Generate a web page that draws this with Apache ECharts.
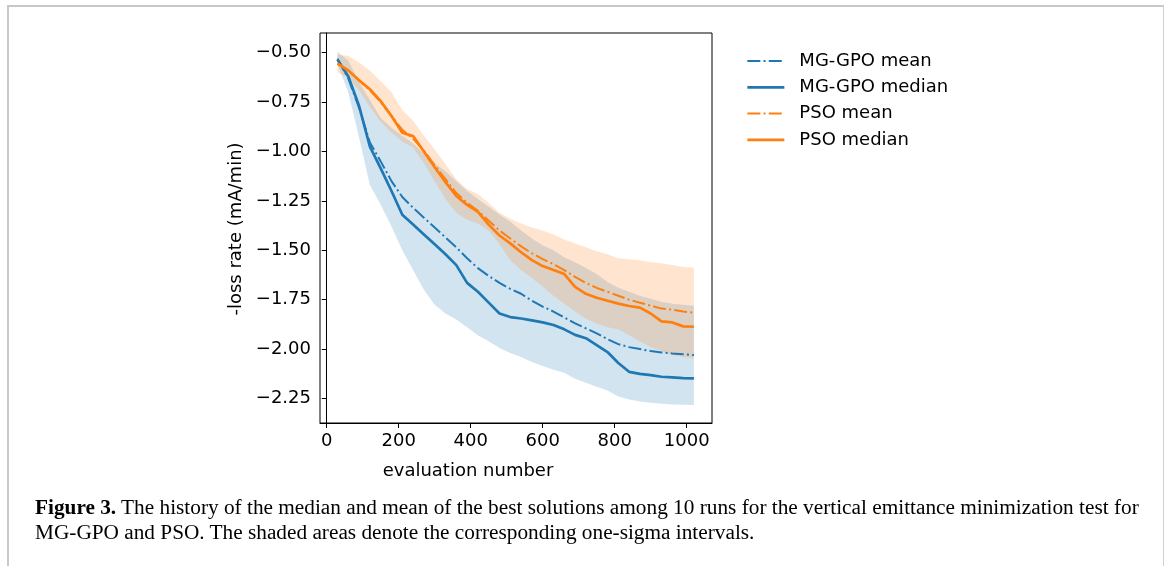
<!DOCTYPE html>
<html>
<head>
<meta charset="utf-8">
<title>Figure 3</title>
<script src="https://cdn.jsdelivr.net/npm/echarts@6.0.0/dist/echarts.min.js"></script>
<style>
  html, body { margin: 0; padding: 0; background: #fff; }
  #frame { position: absolute; left: 7px; top: 5px; width: 1154px; height: 600px;
           border-top: 2px solid #c8c8c8; border-left: 2px solid #c8c8c8; border-right: 1px solid #d0d0d0; }
  #chart { position: absolute; left: 0; top: 0; width: 1170px; height: 566px; }
  #caption { position: absolute; left: 35px; top: 495px; font-family: "Liberation Serif", serif;
             font-size: 20px; line-height: 25px; color: #000; white-space: nowrap;
             transform-origin: 0 0; transform: scaleX(1.064); }
</style>
</head>
<body>
<div id="frame"></div>
<div id="chart"></div>
<div id="caption"><b>Figure 3.</b> The history of the median and mean of the best solutions among 10 runs for the vertical emittance minimization test for<br>MG-GPO and PSO. The shaded areas denote the corresponding one-sigma intervals.</div>
<script>
// evaluation number of each point
var evals = [30, 60, 90, 120, 150, 180, 210, 240, 270, 300, 330, 360, 390, 420, 450, 480, 510,
             540, 570, 600, 630, 660, 690, 720, 750, 780, 810, 840, 870, 900, 930, 960, 990, 1020];

// MG-GPO
var mgMean = [-0.53, -0.63, -0.78, -0.955, -1.05, -1.15, -1.23, -1.285, -1.335, -1.385, -1.435, -1.485, -1.54,
              -1.59, -1.63, -1.665, -1.695, -1.72, -1.755, -1.785, -1.81, -1.84, -1.87, -1.895, -1.92, -1.95,
              -1.975, -1.99, -2.00, -2.01, -2.017, -2.022, -2.026, -2.03];
var mgMedian = [-0.535, -0.62, -0.77, -0.975, -1.085, -1.20, -1.32, -1.37, -1.42, -1.47, -1.52, -1.575, -1.665,
                -1.71, -1.765, -1.82, -1.838, -1.845, -1.855, -1.865, -1.878, -1.90, -1.928, -1.945, -1.98, -2.015,
                -2.07, -2.115, -2.125, -2.132, -2.14, -2.143, -2.147, -2.148];
var mgUpper = [-0.495, -0.54, -0.65, -0.74, -0.83, -0.88, -0.92, -0.96, -1.01, -1.06, -1.10, -1.15, -1.20,
               -1.24, -1.28, -1.32, -1.355, -1.40, -1.44, -1.475, -1.50, -1.535, -1.56, -1.59, -1.62, -1.66,
               -1.69, -1.71, -1.73, -1.745, -1.76, -1.77, -1.776, -1.78];
var mgLower = [-0.56, -0.70, -0.93, -1.17, -1.27, -1.38, -1.50, -1.60, -1.70, -1.775, -1.82, -1.85, -1.89,
               -1.93, -1.96, -1.995, -2.02, -2.04, -2.065, -2.085, -2.105, -2.12, -2.15, -2.17, -2.19, -2.21,
               -2.24, -2.255, -2.265, -2.272, -2.277, -2.28, -2.282, -2.283];

// PSO
var psoMean = [-0.555, -0.59, -0.64, -0.69, -0.75, -0.82, -0.89, -0.935, -0.995, -1.07, -1.14, -1.21, -1.26,
               -1.30, -1.35, -1.40, -1.44, -1.48, -1.515, -1.545, -1.57, -1.60, -1.635, -1.665, -1.69, -1.71,
               -1.73, -1.75, -1.765, -1.78, -1.795, -1.80, -1.81, -1.815];
var psoMedian = [-0.555, -0.59, -0.64, -0.685, -0.745, -0.82, -0.905, -0.922, -1.00, -1.08, -1.155, -1.225, -1.27,
                 -1.305, -1.37, -1.425, -1.465, -1.51, -1.55, -1.58, -1.60, -1.62, -1.685, -1.72, -1.74, -1.755,
                 -1.77, -1.782, -1.79, -1.82, -1.86, -1.865, -1.885, -1.887];
var psoUpper = [-0.51, -0.515, -0.55, -0.59, -0.645, -0.70, -0.79, -0.845, -0.92, -0.99, -1.065, -1.14, -1.19,
                -1.215, -1.26, -1.31, -1.34, -1.365, -1.385, -1.40, -1.42, -1.445, -1.465, -1.485, -1.505, -1.52,
                -1.54, -1.545, -1.55, -1.56, -1.565, -1.575, -1.585, -1.587];
var psoLower = [-0.60, -0.625, -0.69, -0.775, -0.85, -0.905, -0.95, -0.98, -1.06, -1.15, -1.24, -1.31, -1.345,
                -1.365, -1.40, -1.47, -1.55, -1.60, -1.64, -1.685, -1.73, -1.77, -1.81, -1.845, -1.87, -1.89,
                -1.90, -1.93, -1.96, -1.99, -2.01, -2.03, -2.04, -2.047];

var xTicks = [0, 200, 400, 600, 800, 1000];
var yTicks = [-2.25, -2.0, -1.75, -1.5, -1.25, -1.0, -0.75, -0.5];

var BLUE = '#1f77b4', ORANGE = '#ff7f0e';
var FONT = 'DejaVu Sans';
var DASHDOT = [13, 3.2, 2, 3.2];
var W_MEAN = 2, W_MEDIAN = 2.7;

function pairs(ys) {
	var out = [];
	for (var i = 0; i < evals.length; i++) out.push([evals[i], ys[i]]);
	return out;
}

// 阴影区域 (one-sigma band)
function band(name, lower, upper, color) {
	return {
		type: 'custom',
		name: name,
		silent: true,
		z: 1,
		data: [[evals[0], upper[0]]],
		renderItem: function(params, api) {
			var pts = [];
			for (var i = 0; i < evals.length; i++) pts.push(api.coord([evals[i], upper[i]]));
			for (var j = evals.length - 1; j >= 0; j--) pts.push(api.coord([evals[j], lower[j]]));
			return { type: 'polygon', shape: { points: pts }, style: { fill: color, opacity: 0.2 } };
		}
	};
}

function line(name, ys, color, dashed) {
	return {
		type: 'line',
		name: name,
		data: pairs(ys),
		symbol: 'none',
		showSymbol: false,
		z: 3,
		lineStyle: { color: color, width: dashed ? W_MEAN : W_MEDIAN, type: dashed ? DASHDOT : 'solid' },
		itemStyle: { color: color }
	};
}

function legendItem(name, color, dashed) {
	return {
		name: name,
		lineStyle: { color: color, width: dashed ? W_MEAN : W_MEDIAN, type: dashed ? DASHDOT : 'solid' }
	};
}

var chart = echarts.init(document.getElementById('chart'));
chart.setOption({
	animation: false,
	grid: { left: 320, top: 33, width: 392, height: 390, show: true, borderColor: '#000', borderWidth: 1 },
	xAxis: {
		type: 'value', min: -18.6, max: 1070.3,
		axisLine: { show: true, lineStyle: { color: '#000', width: 1 } },
		splitLine: { show: false },
		axisTick: { show: true, length: 5, customValues: xTicks, lineStyle: { color: '#000' } },
		axisLabel: {
			customValues: xTicks, margin: 9, color: '#000', fontFamily: FONT, fontSize: 18,
			formatter: function(v) { return String(v); }
		}
	},
	yAxis: {
		type: 'value', min: -2.374, max: -0.4003,
		axisLine: { show: true, lineStyle: { color: '#000', width: 1 } },
		splitLine: { show: false },
		axisTick: { show: true, length: 5, customValues: yTicks, lineStyle: { color: '#000' } },
		axisLabel: {
			customValues: yTicks, margin: 9, color: '#000', fontFamily: FONT, fontSize: 18,
			formatter: function(v) { return v.toFixed(2).replace('-', '\u2212'); }
		}
	},
	legend: {
		orient: 'vertical', left: 746, top: 51, padding: 0,
		itemWidth: 37, itemHeight: 14, itemGap: 6.3,
		itemStyle: { opacity: 0 },
		data: [
			legendItem('MG-GPO mean', BLUE, true),
			legendItem('MG-GPO median', BLUE, false),
			legendItem('PSO mean', ORANGE, true),
			legendItem('PSO median', ORANGE, false)
		],
		textStyle: { fontFamily: FONT, fontSize: 18, color: '#000', lineHeight: 20, padding: [0, 0, 0, 10] }
	},
	graphic: [
		{ type: 'text', x: 468, y: 471,
		  style: { text: 'evaluation number', font: '18px "DejaVu Sans"', fill: '#000', align: 'center', verticalAlign: 'middle' } },
		{ type: 'text', x: 236, y: 229, rotation: Math.PI / 2,
		  style: { text: '-loss rate (mA/min)', font: '18px "DejaVu Sans"', fill: '#000', align: 'center', verticalAlign: 'middle' } }
	],
	series: [
		band('MG-GPO band', mgLower, mgUpper, BLUE),
		band('PSO band', psoLower, psoUpper, ORANGE),
		line('MG-GPO mean', mgMean, BLUE, true),
		line('MG-GPO median', mgMedian, BLUE, false),
		line('PSO mean', psoMean, ORANGE, true),
		line('PSO median', psoMedian, ORANGE, false)
	]
});
</script>
</body>
</html>
